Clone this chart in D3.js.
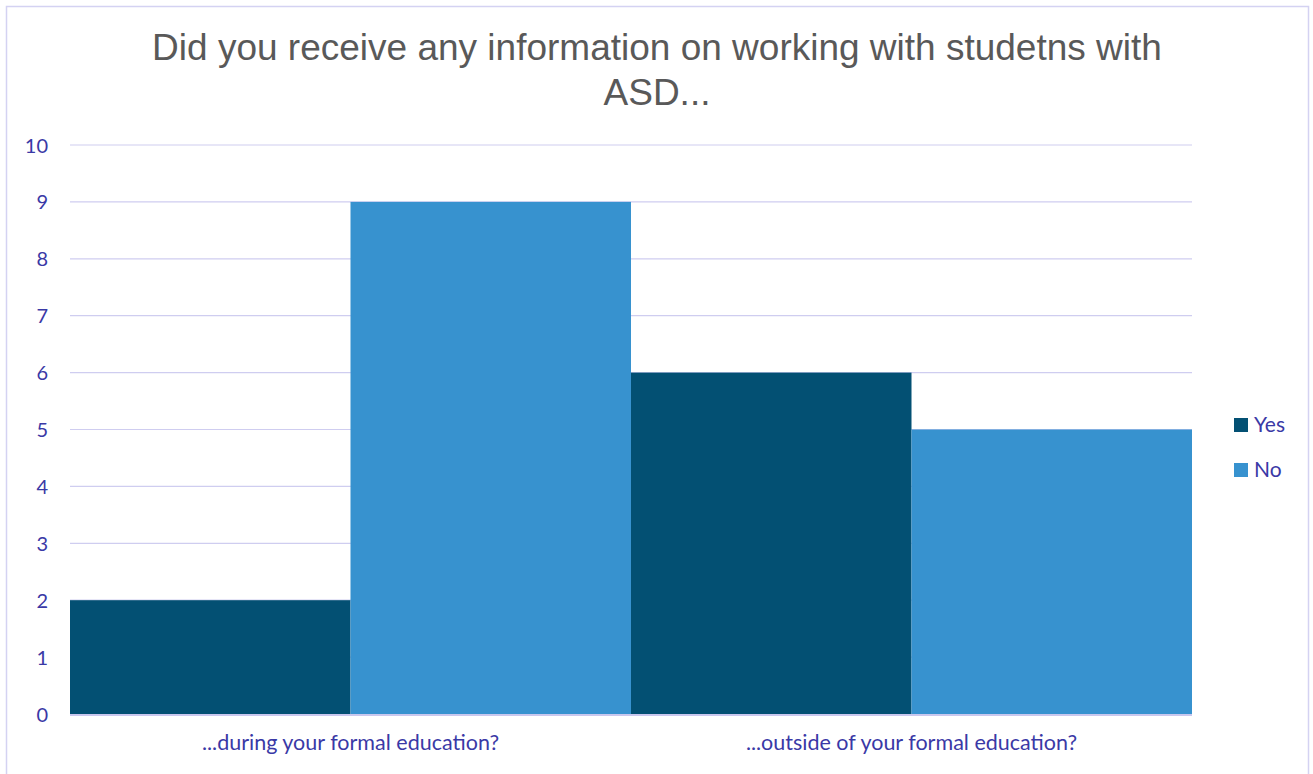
<!DOCTYPE html>
<html><head><meta charset="utf-8">
<script src="https://cdn.jsdelivr.net/npm/d3@7"></script>
<style>body{margin:0;background:#fff}svg{display:block}</style>
</head><body><svg id="c" width="1313" height="774"></svg>
<script>
const categories = ["...during your formal education?", "...outside of your formal education?"];
const seriesNames = ["Yes", "No"];
const yesValues = [2, 6];
const noValues = [9, 5];
const yTicks = [0,1,2,3,4,5,6,7,8,9,10];
const titleLines = ["Did you receive any information on working with studetns with", "ASD..."];
const colors = ["#035073", "#3792cf"];

const svg = d3.select("#c");
svg.append("rect").attr("x",6.5).attr("y",6.5).attr("width",1302).attr("height",780)
  .attr("fill","#fff").attr("stroke","#d4d2f2").attr("stroke-width",1.5);

const m = {l:70, r:1192, t:145, b:714};
const x0 = d3.scaleBand().domain(categories).range([m.l, m.r]).padding(0);
const x1 = d3.scaleBand().domain(seriesNames).range([0, x0.bandwidth()]).padding(0);
const y = d3.scaleLinear().domain([0,10]).range([m.b, m.t]);

const lab = "#3a39a6";
const font = "Lato, 'Open Sans', sans-serif";

svg.append("g").selectAll("line").data(yTicks.filter(d=>d>0)).join("line")
  .attr("x1",m.l).attr("x2",m.r).attr("y1",d=>y(d)).attr("y2",d=>y(d))
  .attr("stroke","#cfcdf0").attr("stroke-width",1.2);

const data = categories.map((c,i)=>({c, vals:[yesValues[i], noValues[i]]}));
svg.append("g").selectAll("g").data(data).join("g")
  .attr("transform",d=>`translate(${x0(d.c)},0)`)
  .selectAll("rect").data(d=>d.vals.map((v,j)=>({s:seriesNames[j], v, j}))).join("rect")
  .attr("x",d=>x1(d.s)).attr("width",x1.bandwidth())
  .attr("y",d=>y(d.v)).attr("height",d=>y(0)-y(d.v)).attr("fill",d=>colors[d.j]);

svg.append("line").attr("x1",m.l).attr("x2",m.r).attr("y1",y(0)+1).attr("y2",y(0)+1)
  .attr("stroke","#c9c7ee").attr("stroke-width",2);

const yAxis = d3.axisLeft(y).tickValues(yTicks).tickSize(0).tickPadding(0);
const ya = svg.append("g").attr("transform",`translate(48,0)`).call(yAxis);
ya.select(".domain").remove();
ya.selectAll("text").attr("fill",lab).style("font-family",font).style("font-size","20px").attr("dy","0.35em");

const xAxis = d3.axisBottom(x0).tickSize(0).tickPadding(0);
const xa = svg.append("g").attr("transform",`translate(0,${m.b+21})`).call(xAxis);
xa.select(".domain").remove();
xa.selectAll("text").attr("fill",lab).style("font-family",font).style("font-size","21.5px").attr("dy","0.71em");

svg.append("g").selectAll("text").data(titleLines).join("text")
  .attr("x",657).attr("y",(d,i)=>60+i*45).attr("text-anchor","middle")
  .attr("fill","#595959").style("font-family","'Liberation Sans', Arial, sans-serif").style("font-size","37px")
  .text(d=>d);

const lg = svg.append("g").selectAll("g").data(seriesNames).join("g")
  .attr("transform",(d,i)=>`translate(1234,${418+i*45})`);
lg.append("rect").attr("width",14).attr("height",14).attr("fill",(d,i)=>colors[i]);
lg.append("text").attr("x",20).attr("y",7).attr("dy","0.35em").attr("fill",lab)
  .style("font-family",font).style("font-size","21px").text(d=>d);
</script></body></html>
